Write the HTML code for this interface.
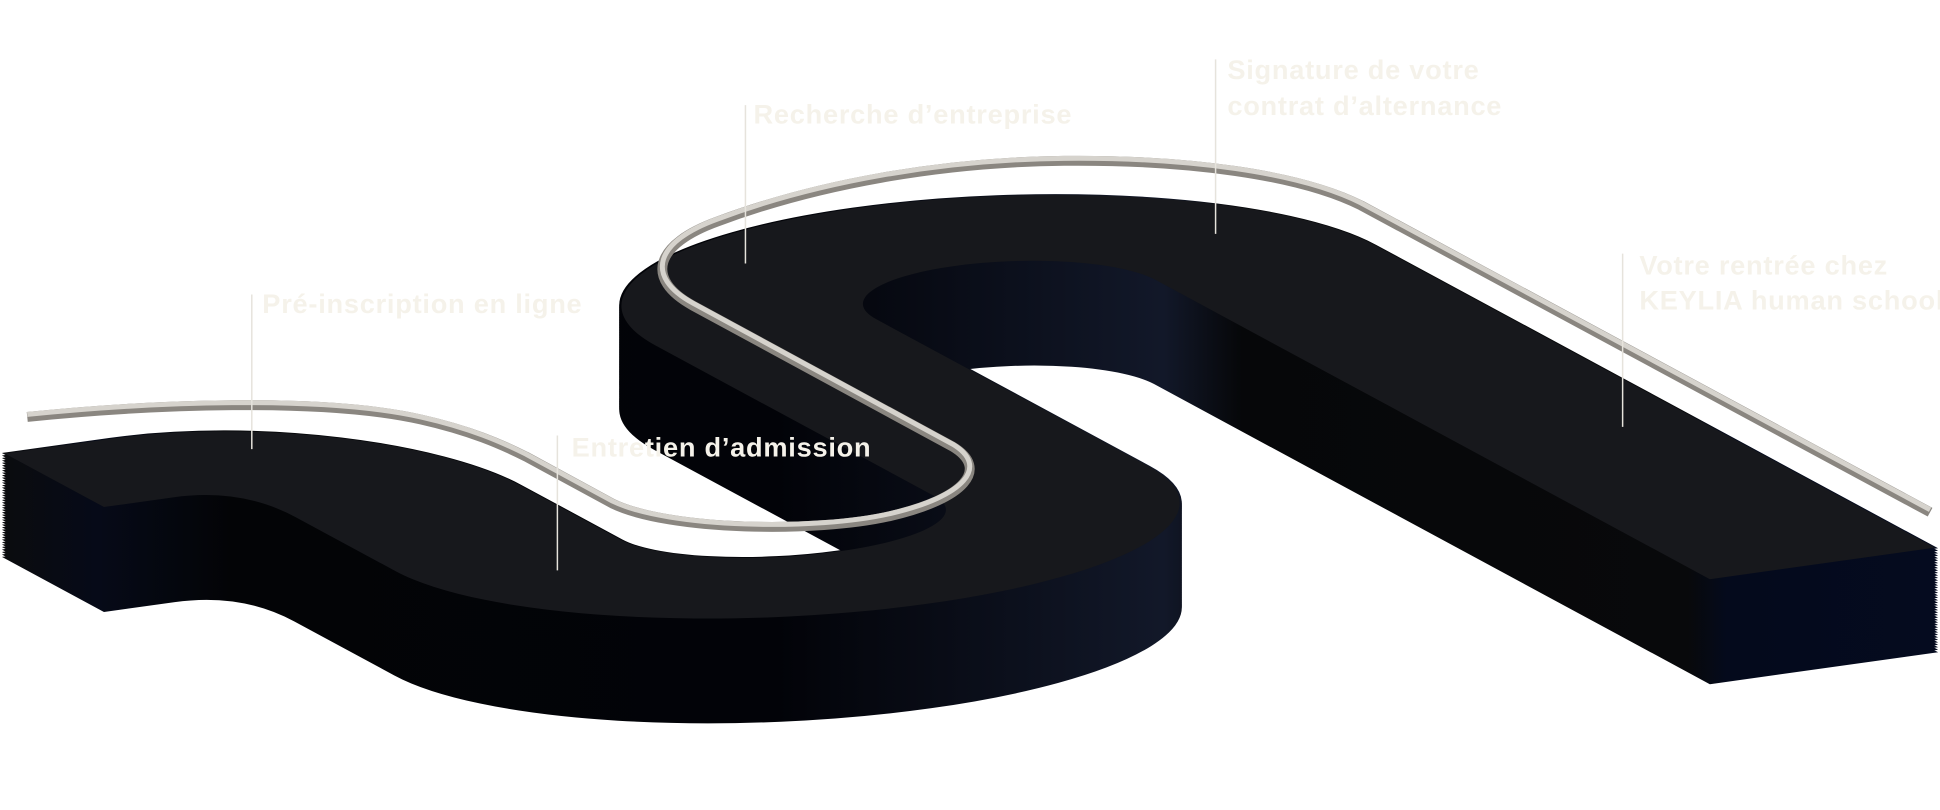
<!DOCTYPE html>
<html><head><meta charset="utf-8"><style>
html,body{margin:0;padding:0;background:#fff;width:1940px;height:810px;overflow:hidden}
svg{display:block}
text{font-family:"Liberation Sans",sans-serif;font-weight:bold;font-size:22px;letter-spacing:0.6px;fill:#f5f2ea}
</style></head><body>
<svg width="1940" height="810" viewBox="0 0 1568 654.7" xmlns="http://www.w3.org/2000/svg">
<defs>
<path id="s" transform="matrix(1,-0.14,1,0.54,0,0)" d="M -536 540 L -450 540 C -330 540 -243 600 -243 663 L -243 745 A 126.5 50 0 0 0 10 745 L 10 520 A 290.5 130 0 0 1 591 520 L 591 973 L 409 973 L 409 525 A 113 50 0 0 0 183 525 L 183 745 A 304 127 0 0 1 -425 745 L -425 664 Q -425 620 -480 620 L -536 620 Z"/>
<linearGradient id="side" x1="0" y1="0" x2="1568" y2="0" gradientUnits="userSpaceOnUse">
<stop offset="0" stop-color="#0b0c0e"/>
<stop offset="0.05" stop-color="#060a18"/>
<stop offset="0.12" stop-color="#030406"/>
<stop offset="0.4" stop-color="#020308"/>
<stop offset="0.6" stop-color="#121829"/>
<stop offset="0.64" stop-color="#060709"/>
<stop offset="0.87" stop-color="#08090b"/>
<stop offset="0.89" stop-color="#040a1c"/>
<stop offset="1" stop-color="#050b1f"/>
</linearGradient>
<mask id="m" maskUnits="userSpaceOnUse" x="0" y="0" width="1568" height="655">
<g fill="#fff" stroke="#fff" stroke-width="2.5">
<use href="#s" y="0"/><use href="#s" y="2"/><use href="#s" y="4"/><use href="#s" y="6"/><use href="#s" y="8"/><use href="#s" y="10"/><use href="#s" y="12"/><use href="#s" y="14"/><use href="#s" y="16"/><use href="#s" y="18"/><use href="#s" y="20"/><use href="#s" y="22"/><use href="#s" y="24"/><use href="#s" y="26"/><use href="#s" y="28"/><use href="#s" y="30"/><use href="#s" y="32"/><use href="#s" y="34"/><use href="#s" y="36"/><use href="#s" y="38"/><use href="#s" y="40"/><use href="#s" y="42"/><use href="#s" y="44"/><use href="#s" y="46"/><use href="#s" y="48"/><use href="#s" y="50"/><use href="#s" y="52"/><use href="#s" y="54"/><use href="#s" y="56"/><use href="#s" y="58"/><use href="#s" y="60"/><use href="#s" y="62"/><use href="#s" y="64"/><use href="#s" y="66"/><use href="#s" y="68"/><use href="#s" y="70"/><use href="#s" y="72"/><use href="#s" y="74"/><use href="#s" y="76"/><use href="#s" y="78"/><use href="#s" y="80"/><use href="#s" y="82"/><use href="#s" y="84"/>
</g>
</mask>
</defs>
<rect x="0" y="0" width="1568" height="655" fill="url(#side)" mask="url(#m)"/>
<use href="#s" fill="#17181c"/>
<!-- rail -->
<path d="M22 337 C120 327 260 321 340 339 C380 348 405 359 425 369 L495 407 C540 429 660 431 720 417 C780 403 800 379 770 361 L560 247 C520 225 530 197 580 179 C660 149 760 131 860 130 C960 129 1050 141 1100 166 L1560 414" fill="none" stroke="#8a8680" stroke-width="8" stroke-linejoin="round"/>
<path d="M22 335 C120 325 260 319 340 337 C380 346 405 357 425 367 L495 405 C540 427 660 429 720 415 C780 401 800 377 770 359 L560 245 C520 223 530 195 580 177 C660 147 760 129 860 128 C960 127 1050 139 1100 164 L1560 412" fill="none" stroke="#d6d3cd" stroke-width="4" stroke-linejoin="round"/>
<!-- leaders -->
<g stroke="#e6e3dc" stroke-width="1.2">
<line x1="203.5" y1="238" x2="203.5" y2="363"/>
<line x1="602.5" y1="85" x2="602.5" y2="213"/>
<line x1="982.5" y1="48" x2="982.5" y2="189"/>
<line x1="1311.5" y1="205" x2="1311.5" y2="345"/>
<line x1="450.5" y1="352" x2="450.5" y2="461"/>
</g>
<text x="212" y="253">Pré-inscription en ligne</text>
<text x="609" y="100">Recherche d’entreprise</text>
<text x="992" y="64">Signature de votre</text>
<text x="992" y="93">contrat d’alternance</text>
<text x="1325" y="222">Votre rentrée chez</text>
<text x="1325" y="250">KEYLIA human school</text>
<text x="462" y="369">Entretien d’admission</text>
</svg>
</body></html>
